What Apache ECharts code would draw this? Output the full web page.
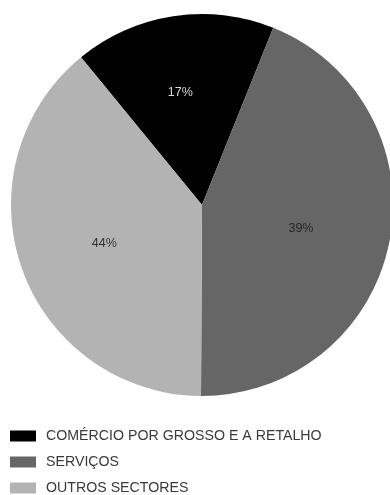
<!DOCTYPE html>
<html>
<head>
<meta charset="utf-8">
<script src="https://cdn.jsdelivr.net/npm/echarts@6/dist/echarts.min.js"></script>
<style>
  html, body { margin: 0; padding: 0; background: #fff; }
  #chart { width: 390px; height: 495px; }
</style>
</head>
<body>
<div id="chart"></div>
<script>
// sectors, clockwise from the top-left edge of the black slice
const sectors = ["COMÉRCIO POR GROSSO E A RETALHO", "SERVIÇOS", "OUTROS SECTORES"];
// slice sizes as drawn (angles)
const shares = [17, 44, 39];
// percentage labels as printed on the slices
const shareLabels = ["17%", "39%", "44%"];
const sliceColors = ["#000000", "#666666", "#b3b3b3"];
const labelColors = ["#d9d9d9", "#262626", "#333333"];
// small nudges so each label sits where the original put it
const labelNudges = [[-5, -4], [-9, 2], [6, 2]];

const myChart = echarts.init(document.getElementById("chart"));

const option = {
  animation: false,
  textStyle: { fontFamily: "Liberation Sans" },
  legend: {
    data: sectors,
    orient: "vertical",
    left: 10,
    top: 429,
    padding: 0,
    itemWidth: 26,
    itemHeight: 11,
    itemGap: 12,
    icon: "rect",
    selectedMode: false,
    textStyle: {
      fontFamily: "Liberation Sans",
      fontSize: 14.2,
      color: "#3a3a3a",
      padding: [0, 0, 0, 5],
    },
  },
  series: [
    {
      type: "pie",
      center: [202, 205],
      radius: 191,
      startAngle: 129.3,
      clockwise: true,
      label: { show: false },
      labelLine: { show: false },
      emphasis: { disabled: true },
      data: sectors.map((name, i) => ({
        name: name,
        value: shares[i],
        itemStyle: { color: sliceColors[i] },
      })),
    },
    {
      // transparent twin, only carries the labels a little further out
      type: "pie",
      center: [202, 205],
      radius: 214,
      startAngle: 129.3,
      clockwise: true,
      silent: true,
      legendHoverLink: false,
      itemStyle: { color: "rgba(0,0,0,0)" },
      labelLine: { show: false },
      emphasis: { disabled: true },
      data: sectors.map((name, i) => ({
        name: name,
        value: shares[i],
        label: {
          show: true,
          position: "inside",
          formatter: shareLabels[i],
          color: labelColors[i],
          fontSize: 12.5,
          fontFamily: "Liberation Sans",
          offset: labelNudges[i],
        },
      })),
    },
  ],
};

myChart.setOption(option);
</script>
</body>
</html>
